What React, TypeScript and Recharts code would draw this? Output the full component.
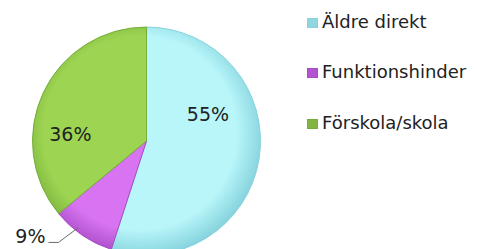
import { PieChart, Pie, Cell, Legend } from 'recharts';

const categories = ['Äldre direkt', 'Funktionshinder', 'Förskola/skola'];
const shares = [55, 9, 36];
const fills = ['#B8F6FA', '#D874F1', '#9DD452'];
const edges = ['#86D3DD', '#A84BC6', '#75AE3A'];
const swatches = ['#8FD6E0', '#B453D2', '#80B543'];

const data = categories.map((name, i) => ({ name, value: shares[i] }));

const RAD = Math.PI / 180;

// label placement: angle (deg, counter-clockwise from 3 o'clock) and radius factor
const labelSpots: Record<number, { ang: number; rf: number }> = {
  0: { ang: 24, rf: 0.59 },
  2: { ang: 175, rf: 0.67 },
};

function renderLabel(props: any) {
  const { cx, cy, midAngle, outerRadius, value, index } = props;
  if (index === 1) {
    const a = (-midAngle + 4) * RAD;
    const sx = cx + outerRadius * 0.965 * Math.cos(a);
    const sy = cy + outerRadius * 0.965 * Math.sin(a);
    const ex = sx - 20;
    const ey = sy + 15;
    return (
      <g>
        <polyline points={`${sx},${sy} ${ex},${ey} ${ex - 10},${ey}`} fill="none" stroke="#6b6b6b" strokeWidth={1} />
        <text x={ex - 13} y={ey + 1} textAnchor="end" fill="#222" fontSize={19} fontFamily="DejaVu Sans">
          {value}%
        </text>
      </g>
    );
  }
  const s = labelSpots[index];
  const x = cx + outerRadius * s.rf * Math.cos(s.ang * RAD);
  const y = cy - outerRadius * s.rf * Math.sin(s.ang * RAD);
  return (
    <text x={x} y={y} textAnchor="middle" dominantBaseline="central" fill="#222" fontSize={19} fontFamily="DejaVu Sans">
      {value}%
    </text>
  );
}

function LegendBox() {
  return (
    <div style={{ fontFamily: 'DejaVu Sans', fontSize: 18, color: '#222' }}>
      {categories.map((c, i) => (
        <div key={c} style={{ display: 'flex', alignItems: 'center', height: 50.5 }}>
          <span
            style={{
              width: 11,
              height: 10,
              background: swatches[i],
              border: `1px solid ${edges[i]}`,
              boxSizing: 'border-box',
              marginRight: 4,
              marginTop: 3,
            }}
          />
          <span>{c}</span>
        </div>
      ))}
    </div>
  );
}

export default function App() {
  return (
    <div style={{ position: 'absolute', left: 0, top: 0, background: '#fff' }}>
      <PieChart width={477} height={249} margin={{ top: 0, right: 0, bottom: 0, left: 0 }}>
        <defs>
          {fills.map((f, i) => (
            <radialGradient key={i} id={`g${i}`} cx={140} cy={133} r={124} gradientUnits="userSpaceOnUse">
              <stop offset="0%" stopColor={f} />
              <stop offset="78%" stopColor={f} />
              <stop offset="100%" stopColor={edges[i]} />
            </radialGradient>
          ))}
        </defs>
        <Pie
          data={data}
          dataKey="value"
          nameKey="name"
          cx={146.5}
          cy={141}
          outerRadius={114}
          startAngle={90}
          endAngle={-270}
          label={renderLabel}
          labelLine={false}
          isAnimationActive={false}
        >
          {data.map((d, i) => (
            <Cell key={d.name} fill={`url(#g${i})`} stroke={edges[i]} strokeWidth={1} />
          ))}
        </Pie>
        <Legend
          layout="vertical"
          align="right"
          verticalAlign="top"
          content={() => <LegendBox />}
          wrapperStyle={{ left: 307, top: -4, width: 170 }}
        />
      </PieChart>
    </div>
  );
}
